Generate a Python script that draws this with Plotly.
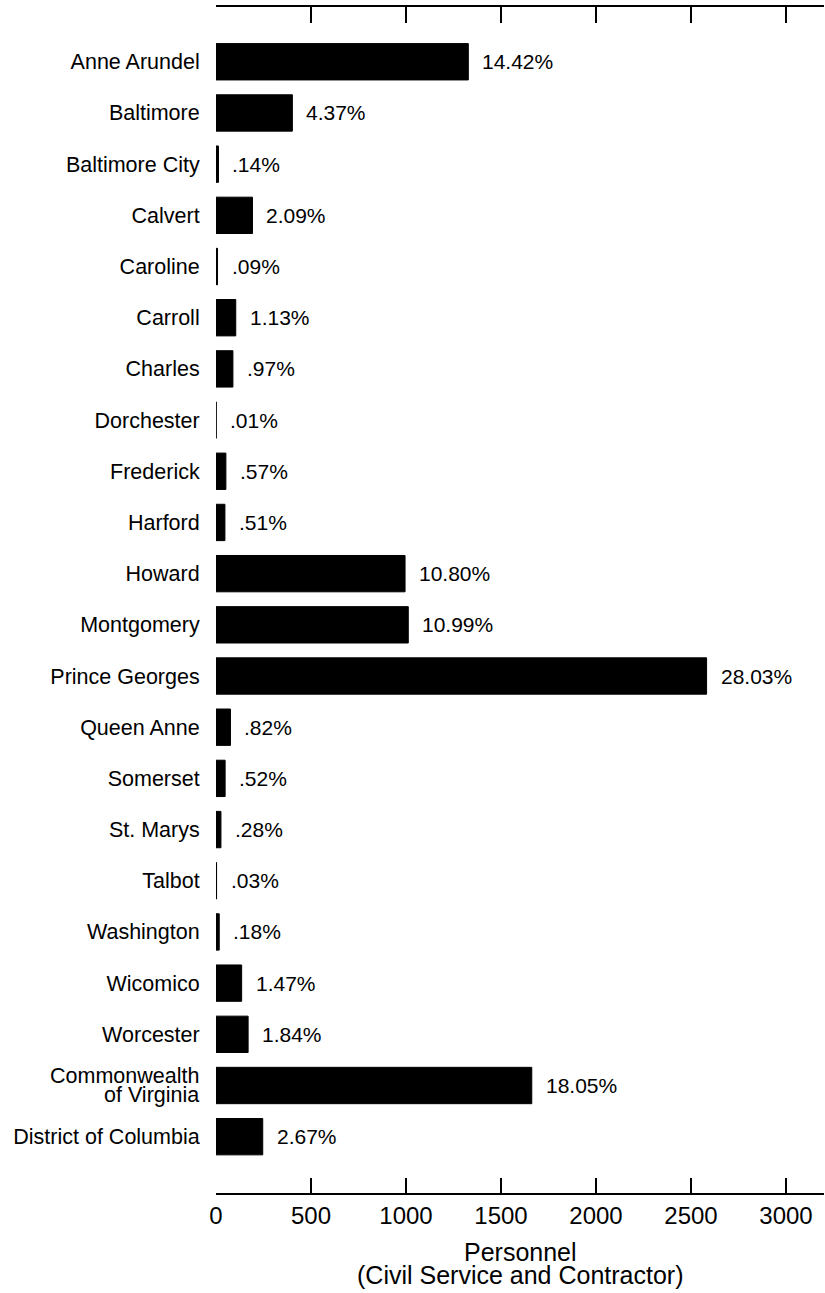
import plotly.graph_objects as go

categories = ["Anne Arundel", "Baltimore", "Baltimore City", "Calvert", "Caroline",
              "Carroll", "Charles", "Dorchester", "Frederick", "Harford", "Howard",
              "Montgomery", "Prince Georges", "Queen Anne", "Somerset", "St. Marys",
              "Talbot", "Washington", "Wicomico", "Worcester",
              "Commonwealth of Virginia", "District of Columbia"]
personnel = [1328, 402, 13, 192, 8, 104, 89, 1, 52, 47, 995, 1012, 2582, 76, 48, 26,
             3, 17, 135, 169, 1662, 246]
pct_labels = ["14.42%", "4.37%", ".14%", "2.09%", ".09%", "1.13%", ".97%", ".01%",
              ".57%", ".51%", "10.80%", "10.99%", "28.03%", ".82%", ".52%", ".28%",
              ".03%", ".18%", "1.47%", "1.84%", "18.05%", "2.67%"]
x_ticks = [0, 500, 1000, 1500, 2000, 2500, 3000]
title_lines = ["Personnel", "(Civil Service and Contractor)"]
wrapped_label = {"Commonwealth of Virginia": ["Commonwealth", "of Virginia"]}

FONT = "Liberation Sans, Arial, Helvetica, sans-serif"

fig = go.Figure()
fig.add_trace(go.Bar(
    y=categories, x=personnel, orientation="h",
    marker=dict(color="black", line=dict(color="black", width=1)),
    hoverinfo="skip", showlegend=False,
))
# invisible trace to anchor top axis
fig.add_trace(go.Scatter(x=[0], y=[categories[0]], xaxis="x2", mode="markers",
                         marker=dict(opacity=0), showlegend=False, hoverinfo="skip"))

for c, v, t in zip(categories, personnel, pct_labels):
    fig.add_annotation(x=v, y=c, text=t, showarrow=False, xanchor="left",
                       yanchor="middle", xshift=12,
                       font=dict(family=FONT, size=21, color="black"))

# tightly spaced two-line category label
for cat, lines in wrapped_label.items():
    for line, ys in zip(lines, [9.5, -9.5]):
        fig.add_annotation(x=0, xref="paper", y=cat, yref="y", text=line,
                           showarrow=False, xanchor="right", yanchor="middle",
                           xshift=-15, yshift=ys,
                           font=dict(family=FONT, size=21.5, color="black"))

tick_text = ["" if c in wrapped_label else c for c in categories]

for line, yy in zip(title_lines, [-0.0497, -0.0688]):
    fig.add_annotation(x=0.5, y=yy, xref="paper", yref="paper", text=line,
                       showarrow=False, xanchor="center", yanchor="middle",
                       font=dict(family=FONT, size=25, color="black"))

fig.update_layout(
    width=825, height=1293,
    margin=dict(l=216, r=1, t=7, b=100),
    paper_bgcolor="white", plot_bgcolor="white",
    bargap=0.29,
    font=dict(family=FONT, color="black"),
    xaxis=dict(
        range=[0, 3200], tickvals=x_ticks, ticks="inside", ticklen=15,
        tickwidth=1.5, tickcolor="black", showline=True, linewidth=1.5,
        linecolor="black", showgrid=False, zeroline=False, automargin=False,
        tickfont=dict(family=FONT, size=24, color="black"),
    ),
    xaxis2=dict(
        range=[0, 3200], tickvals=x_ticks, overlaying="x", side="top",
        ticks="inside", ticklen=16, tickwidth=1.5, tickcolor="black",
        showline=True, linewidth=1.5, linecolor="black", showgrid=False,
        zeroline=False, showticklabels=False, automargin=False,
    ),
    yaxis=dict(
        type="category", categoryorder="array", categoryarray=categories,
        tickvals=categories, ticktext=tick_text,
        range=[22.1, -1.07], showline=False, showgrid=False, zeroline=False,
        ticks="outside", ticklen=11, tickcolor="rgba(0,0,0,0)", automargin=False,
        tickfont=dict(family=FONT, size=21.5, color="black"),
    ),
)

fig.write_html("out.html", config={"displayModeBar": False},
               post_script="document.body.style.margin='0';document.body.style.padding='0';")
